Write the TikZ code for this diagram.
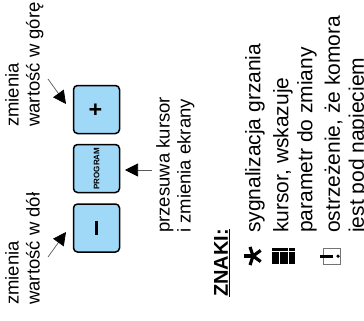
\documentclass[tikz,border=0pt]{standalone}
\usepackage{fontspec}
\setmainfont{Liberation Sans}
\usetikzlibrary{positioning,arrows.meta}
\definecolor{keyBlue}{RGB}{160,216,248}
\tikzset{
  keybox/.style={draw,line width=1.5pt,rounded corners=4pt,fill=keyBlue,minimum width=46pt,minimum height=48pt,inner sep=0pt},
  keylabel/.style={rotate=90,font=\fontsize{18.5}{21}\selectfont,align=left,anchor=north west,inner sep=0pt},
  legendlabel/.style={keylabel,font=\fontsize{21}{24}\selectfont},
  pointer/.style={-{Triangle[length=13pt,width=13pt,black]},draw=black!65,line width=0.7pt},
}
\begin{document}
\begin{tikzpicture}[x=1pt,y=-1pt]
  \useasboundingbox (0,0) rectangle (364,321);
  % keys
  \node[keybox] (plus) at (96.5,109.5) {};
  \node[keybox] (program) at (96.5,168.5) {};
  \node[keybox] (minus) at (96.5,228) {};
  \node[font=\bfseries\fontsize{23}{23}\selectfont,rotate=90] (pluslabel) at (plus) {+};
  \node[font=\bfseries\fontsize{8}{8}\selectfont,rotate=90] (proglabel) at (program) {PROGRAM};
  \node[fill,minimum width=3.5pt,minimum height=14pt,inner sep=0pt] (minuslabel) at (minus) {};
  % labels
  \node[keylabel] (up) at (5,127) {zmienia\\wartość w górę};
  \node[keylabel] (down) at (5,305) {zmienia\\wartość w dół};
  \node[keylabel] (move) at (156,233) {przesuwa kursor\\i zmienia ekrany};
  % arrows
  \coordinate (upstart) at (48,79);
  \coordinate (downstart) at (48,257);
  \coordinate (movestart) at (152,170);
  \draw[pointer] (upstart) -- (66,104);
  \draw[pointer] (downstart) -- (66,232);
  \draw[pointer] (movestart) -- (125,170);
  % legend
  \node[rotate=90,anchor=north west,inner sep=0pt,font=\bfseries\fontsize{20}{22}\selectfont] (znaki) at (214,297) {\underline{ZNAKI:}};
  \node[legendlabel] (l1) at (245,233) {sygnalizacja grzania};
  \node[legendlabel] (l2) at (273,233) {kursor, wskazuje\\parametr do zmiany};
  \node[legendlabel] (l3) at (324.5,233) {ostrzeżenie, że komora\\jest pod napięciem};
  % icons
  \foreach \a in {180,252,324,36,108}
    \draw[line width=3.2pt] (253,256) -- ++(\a:9.5pt);
  \fill (272,248) rectangle (295,264);
  \draw[white,line width=0.8pt] (272,251) -- (295,251);
  \draw[white,line width=0.8pt] (279,251) -- (279,264);
  \draw[white,line width=0.8pt] (288,248) -- (288,264);
  \draw[black!55,line width=1pt] (323,248) rectangle (340,264);
  \fill (320,255) rectangle (333,257.5);
  \fill (338,256.2) circle (1.8pt);
\end{tikzpicture}
\end{document}
